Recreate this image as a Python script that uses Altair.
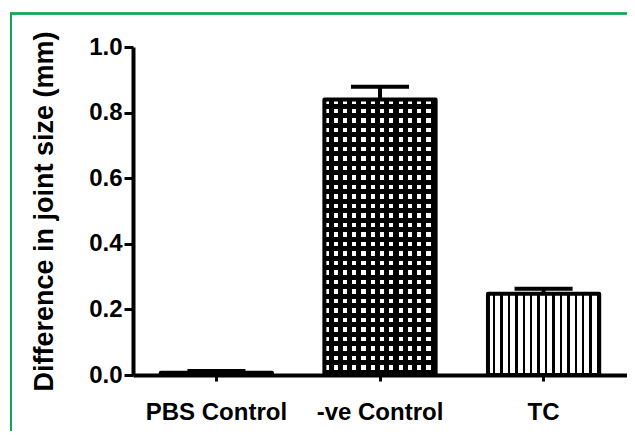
import altair as alt
import pandas as pd

categories = ["PBS Control", "-ve Control", "TC"]
means = [0.007, 0.84, 0.248]
err_tops = [0.012, 0.879, 0.263]

df = pd.DataFrame({"group": categories, "mean": means, "top": err_tops})

FONT = "Liberation Sans"
W, H = 494, 328


def stripes(n, frac_white, direction, c_white, c_black):
    stops = []
    for k in range(n):
        a = k / n
        b = (k + frac_white) / n
        c = (k + 1) / n
        stops += [
            alt.GradientStop(offset=a, color=c_white),
            alt.GradientStop(offset=b, color=c_white),
            alt.GradientStop(offset=b, color=c_black),
            alt.GradientStop(offset=c, color=c_black),
        ]
    if direction == "x":
        return alt.LinearGradient(gradient="linear", stops=stops, x1=0, x2=1, y1=0, y2=0)
    return alt.LinearGradient(gradient="linear", stops=stops, x1=0, x2=0, y1=0, y2=1)


x_enc = alt.X(
    "group:N",
    sort=categories,
    title=None,
    scale=alt.Scale(paddingInner=0.32, paddingOuter=0.17),
    axis=alt.Axis(
        labelAngle=0,
        labelFont=FONT,
        labelFontSize=24,
        labelFontWeight="bold",
        labelColor="black",
        labelPadding=19,
        domainColor="black",
        domainWidth=4,
        tickColor="black",
        tickWidth=3,
        tickSize=6,
    ),
)
y_enc = alt.Y(
    "mean:Q",
    title="Difference in joint size (mm)",
    scale=alt.Scale(domain=[0, 1], nice=False),
    axis=alt.Axis(
        values=[0, 0.2, 0.4, 0.6, 0.8, 1.0],
        format=".1f",
        grid=False,
        labelFont=FONT,
        labelFontSize=24,
        labelFontWeight="bold",
        labelColor="black",
        labelPadding=2,
        domainColor="black",
        domainWidth=4,
        tickColor="black",
        tickWidth=3,
        tickSize=9,
        titleFont=FONT,
        titleFontSize=27,
        titleFontWeight="bold",
        titleColor="black",
        titlePadding=30,
    ),
)

base = alt.Chart(df)

stem = base.mark_rule(color="black", strokeWidth=4).encode(
    x=x_enc, y=y_enc, y2="top:Q"
)
cap = base.mark_tick(color="black", size=58, thickness=4, opacity=1).encode(
    x=x_enc, y=alt.Y("top:Q", scale=alt.Scale(domain=[0, 1], nice=False))
)

pbs = base.transform_filter(alt.datum.group == "PBS Control").mark_bar(
    color="black", stroke="black", strokeWidth=4, strokeJoin="round"
).encode(x=x_enc, y=y_enc)

neg_h = base.transform_filter(alt.datum.group == "-ve Control").mark_bar(
    fill=stripes(29, 0.45, "y", "white", "black")
).encode(x=x_enc, y=y_enc)
neg_v = base.transform_filter(alt.datum.group == "-ve Control").mark_bar(
    fill=stripes(12, 0.45, "x", "rgba(0,0,0,0)", "black")
).encode(x=x_enc, y=y_enc)
neg_o = base.transform_filter(alt.datum.group == "-ve Control").mark_bar(
    fill="transparent", stroke="black", strokeWidth=4, strokeJoin="round"
).encode(x=x_enc, y=y_enc)

tc = base.transform_filter(alt.datum.group == "TC").mark_bar(
    fill=stripes(15, 0.68, "x", "white", "black"),
    stroke="black", strokeWidth=4, strokeJoin="round"
).encode(x=x_enc, y=y_enc)

GREEN = "#12a650"
frame_left = base.mark_rule(color=GREEN, strokeWidth=2).encode(
    x=alt.value(-122), y=alt.value(-33.5), y2=alt.value(H + 60)
)
frame_top = base.mark_rule(color=GREEN, strokeWidth=2).encode(
    x=alt.value(-123), x2=alt.value(W + 10), y=alt.value(-33.5)
)

chart = alt.layer(
    frame_left, frame_top, stem, cap, pbs, neg_h, neg_v, neg_o, tc
).properties(
    width=W,
    height=H,
    autosize=alt.AutoSizeParams(type="none"),
    padding={"left": 125, "top": 39, "right": 0, "bottom": 56},
    background="white",
).configure_view(stroke=None)

chart.save("out.html", embed_options={"renderer": "svg", "actions": False})
